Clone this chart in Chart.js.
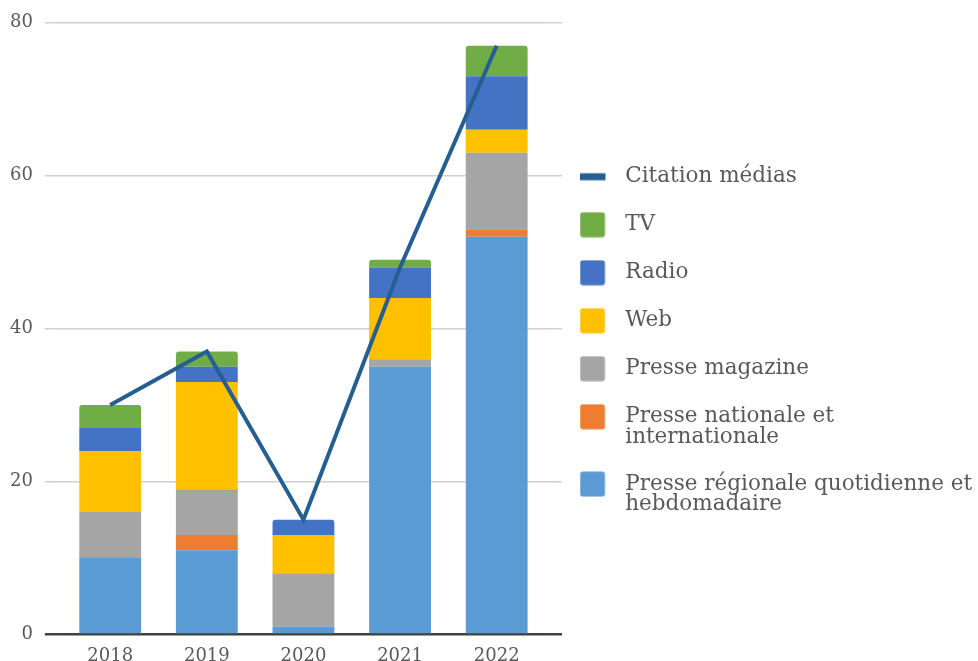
<!DOCTYPE html>
<html>
<head>
<meta charset="utf-8">
<script src="https://cdn.jsdelivr.net/npm/chart.js@4.4.1/dist/chart.umd.min.js"></script>
<style>
  html, body { margin: 0; padding: 0; background: #fff; }
</style>
</head>
<body>
<canvas id="myChart" width="978" height="661"></canvas>
<script>
    // data
    const years = ['2018', '2019', '2020', '2021', '2022'];
    const regionale = [10, 11, 1, 35, 52];
    const nationale = [0, 2, 0, 0, 1];
    const magazine = [6, 6, 7, 1, 10];
    const web = [8, 14, 5, 8, 3];
    const radio = [3, 2, 2, 4, 7];
    const tv = [3, 2, 0, 1, 4];
    const citations = [30, 37, 15, 48, 77];

    const barSeries = [
      { label: 'Presse régionale quotidienne et hebdomadaire', data: regionale, color: '#5b9bd5' },
      { label: 'Presse nationale et internationale', data: nationale, color: '#ed7d31' },
      { label: 'Presse magazine', data: magazine, color: '#a5a5a5' },
      { label: 'Web', data: web, color: '#ffc000' },
      { label: 'Radio', data: radio, color: '#4472c4' },
      { label: 'TV', data: tv, color: '#70ad47' }
    ];
    const lineColor = '#255e91';
    const textColor = '#595959';
    const fontFamily = "'DejaVu Serif', serif";

    // legend text wrapped like the original
    const legendLines = {
      'Presse régionale quotidienne et hebdomadaire': ['Presse régionale quotidienne et', 'hebdomadaire'],
      'Presse nationale et internationale': ['Presse nationale et', 'internationale']
    };

    // only the top segment of each stack gets rounded corners
    function topRadius(ctx) {
      const i = ctx.dataIndex;
      const d = ctx.datasetIndex;
      if (!barSeries[d] || !barSeries[d].data[i]) return 0;
      for (let k = d + 1; k < barSeries.length; k++) {
        if (barSeries[k].data[i]) return 0;
      }
      return { topLeft: 3, topRight: 3, bottomLeft: 0, bottomRight: 0 };
    }

    // legend icons: square swatch or flat bar for the line, offset left inside a wider canvas
    function makeIcon(color, isLine) {
      const c = document.createElement('canvas');
      c.width = 44; c.height = 26;
      const g = c.getContext('2d');
      g.fillStyle = color;
      if (isLine) {
        g.fillRect(0, 9.5, 26, 7);
      } else {
        g.beginPath();
        g.roundRect(0.5, 0.5, 25, 25, 3);
        g.fill();
      }
      return c;
    }

    const gridColor = ctx => ctx.tick && ctx.tick.value === 0 ? '#404040' : '#d0d0d0';
    const gridWidth = ctx => ctx.tick && ctx.tick.value === 0 ? 2.5 : 1.5;

    const datasets = barSeries.map(s => ({
      type: 'bar',
      label: s.label,
      data: s.data,
      backgroundColor: s.color,
      borderWidth: 0,
      borderRadius: topRadius,
      borderSkipped: false,
      stack: 'media',
      order: 1,
      barPercentage: 0.8,
      categoryPercentage: 0.8
    }));
    datasets.push({
      type: 'line',
      label: 'Citation médias',
      data: citations,
      borderColor: lineColor,
      backgroundColor: lineColor,
      borderWidth: 4,
      pointRadius: 0,
      tension: 0,
      stack: 'line',
      order: 0
    });
    const lineIndex = datasets.length - 1;

    const config = {
      type: 'bar',
      data: { labels: years, datasets },
      options: {
        responsive: false,
        animation: false,
        layout: { padding: { top: 16, left: -2, right: 0, bottom: -17 } },
        scales: {
          x: {
            stacked: true,
            grid: { display: false, drawTicks: false },
            border: { display: false },
            ticks: { color: textColor, padding: 11, font: { family: fontFamily, size: 18 } }
          },
          y: {
            stacked: true,
            min: 0,
            max: 80,
            ticks: { stepSize: 20, color: textColor, padding: 12, font: { family: fontFamily, size: 18 } },
            grid: { color: gridColor, lineWidth: gridWidth, tickLength: 17, drawTicks: true },
            border: { display: false }
          },
          yRight: {
            position: 'right',
            min: 0,
            max: 80,
            ticks: { display: false, stepSize: 20 },
            grid: { drawOnChartArea: false, drawTicks: true, tickLength: 17, color: gridColor, lineWidth: gridWidth },
            border: { display: false }
          }
        },
        plugins: {
          tooltip: { enabled: false },
          legend: {
            position: 'right',
            align: 'start',
            maxWidth: 416,
            title: { display: true, text: ' ', font: { size: 10, lineHeight: 1 }, padding: { top: 113.5, bottom: 0 } },
            labels: {
              color: textColor,
              font: { family: fontFamily, size: 21.5, lineHeight: 0.95 },
              usePointStyle: true,
              pointStyleWidth: 26,
              padding: 26.5,
              sort: (a, b) => {
                const ka = a.datasetIndex === lineIndex ? -100 : -a.datasetIndex;
                const kb = b.datasetIndex === lineIndex ? -100 : -b.datasetIndex;
                return ka - kb;
              },
              generateLabels: chart => {
                const items = Chart.defaults.plugins.legend.labels.generateLabels(chart);
                return items.map(it => {
                  const isLine = it.datasetIndex === lineIndex;
                  const color = isLine ? lineColor : barSeries[it.datasetIndex].color;
                  it.pointStyle = makeIcon(color, isLine);
                  it.text = legendLines[it.text] || it.text;
                  return it;
                });
              }
            }
          }
        }
      }
    };

    const myChart = new Chart(document.getElementById('myChart'), config);
</script>
</body>
</html>
